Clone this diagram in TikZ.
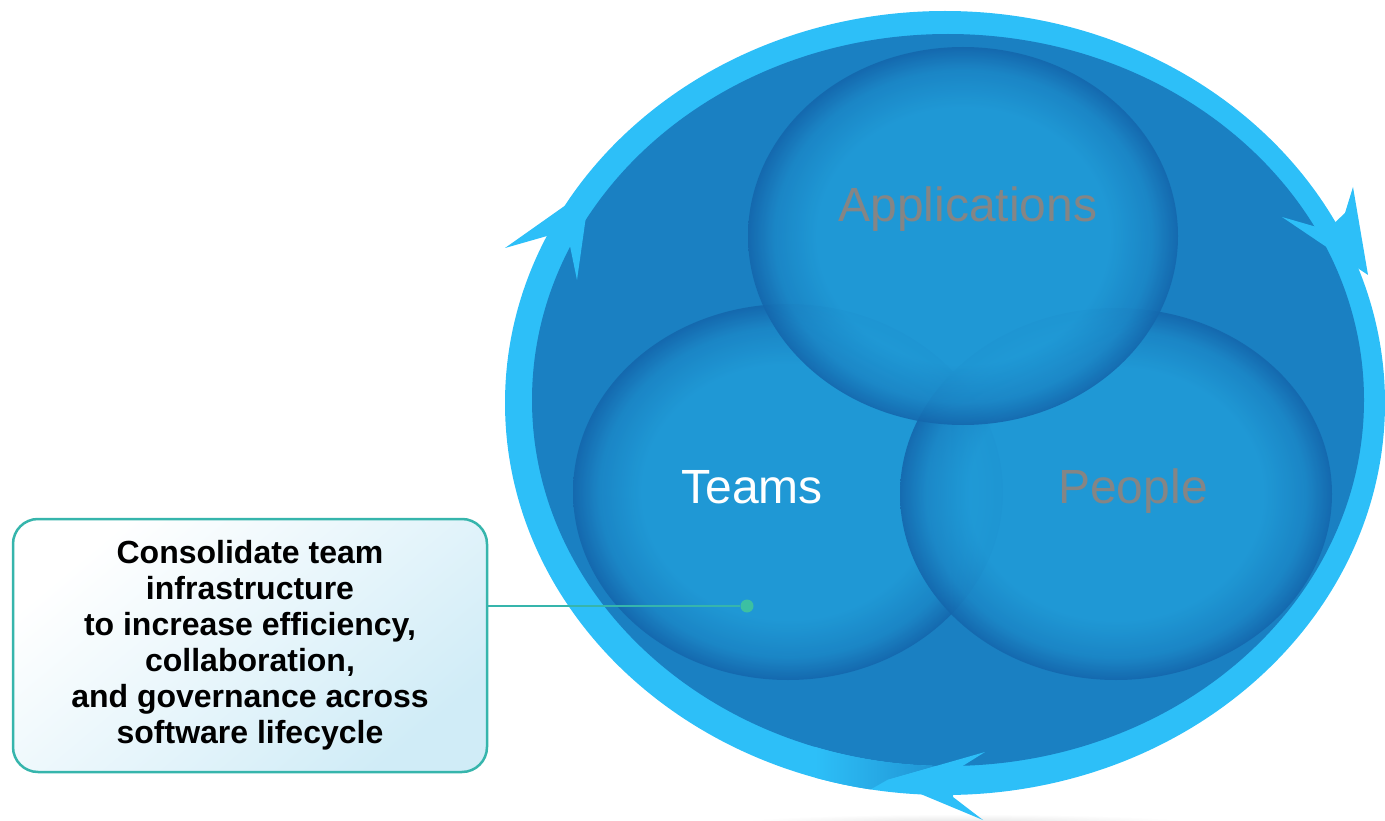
\documentclass[tikz,border=0pt]{standalone}
\usepackage{fontspec}
\setmainfont{Liberation Sans}
\definecolor{ringc}{HTML}{2DBFF8}
\definecolor{innerc}{HTML}{1A80C2}
\definecolor{ballc}{HTML}{209CD8}
\definecolor{ballr}{HTML}{1466AC}
\definecolor{tealc}{HTML}{36B5AC}
\definecolor{dotc}{HTML}{3CC0A2}
\definecolor{boxc}{HTML}{D0ECF7}
\definecolor{txtgray}{HTML}{858585}
\pgfdeclareradialshading{sphere}{\pgfpointorigin}{color(0bp)=(ballc); color(17bp)=(ballc); color(22bp)=(ballc!60!ballr); color(25bp)=(ballr); color(50bp)=(ballr)}
\begin{document}
\begin{tikzpicture}[x=1pt,y=-1pt,
  ball/.style={shading=sphere, fill opacity=0.88},
  arrowhd/.style={fill=ringc},
  lbl/.style={font=\fontsize{48}{56}\selectfont, anchor=base},
  callout/.style={draw=tealc, line width=2.5pt, rounded corners=25pt,
    top color=white, bottom color=boxc, shading angle=40,
    minimum width=474pt, minimum height=253pt, align=center,
    font=\bfseries\fontsize{32}{36}\selectfont}]
\useasboundingbox (0,0) rectangle (1385,821);
% faint floor shadow
\shade[inner color=gray!22, outer color=white] (965,823) ellipse [x radius=230pt, y radius=9pt];
% outer ring and inner field
\fill[ringc] (945,403) ellipse [x radius=440pt, y radius=392pt];
\fill[innerc] (948,400) ellipse [x radius=416pt, y radius=366pt];
% darker fade of the ring just behind the bottom arrow tip
\begin{scope}[even odd rule]
  \clip (945,403) ellipse [x radius=440pt, y radius=392pt]
        (948,400) ellipse [x radius=416pt, y radius=366pt];
  \clip (815,720) -- (985,720) -- (985,752) -- (887,780) -- (815,821) -- cycle;
  \shade[left color=ringc, right color=innerc!75!ringc] (815,720) rectangle (950,821);
\end{scope}
% arrow heads on the ring
\fill[arrowhd] (590,188) -- (505,248) -- (547,236) -- (570,246) -- (577,280) -- cycle;
\fill[arrowhd] (1368,275) -- (1282,217) -- (1327,230) -- (1345,213) -- (1353,187) -- cycle;
\fill[arrowhd] (887,780) -- (985,752) -- (953,772) -- (953,797) -- (983,820) -- cycle;
% three spheres
\shade[ball] (788,492) ellipse [x radius=215pt, y radius=188pt];
\shade[ball] (1116,494) ellipse [x radius=216pt, y radius=186pt];
\shade[ball] (963,236) ellipse [x radius=215pt, y radius=189pt];
% labels
\node[lbl, text=txtgray] (apps) at (968,222) {Applications};
\node[lbl, text=white] (teams) at (752,503) {Teams};
\node[lbl, text=txtgray] (people) at (1133,503) {People};
% callout
\node[callout] (box) at (250,645.5) {Consolidate team\\infrastructure\\to increase efficiency,\\collaboration,\\and governance across\\software lifecycle};
\node[circle, fill=dotc, inner sep=0pt, minimum size=13pt] (dot) at (747,606) {};
\draw[tealc, line width=1.8pt] (box.east |- dot) -- (dot);
\end{tikzpicture}
\end{document}
